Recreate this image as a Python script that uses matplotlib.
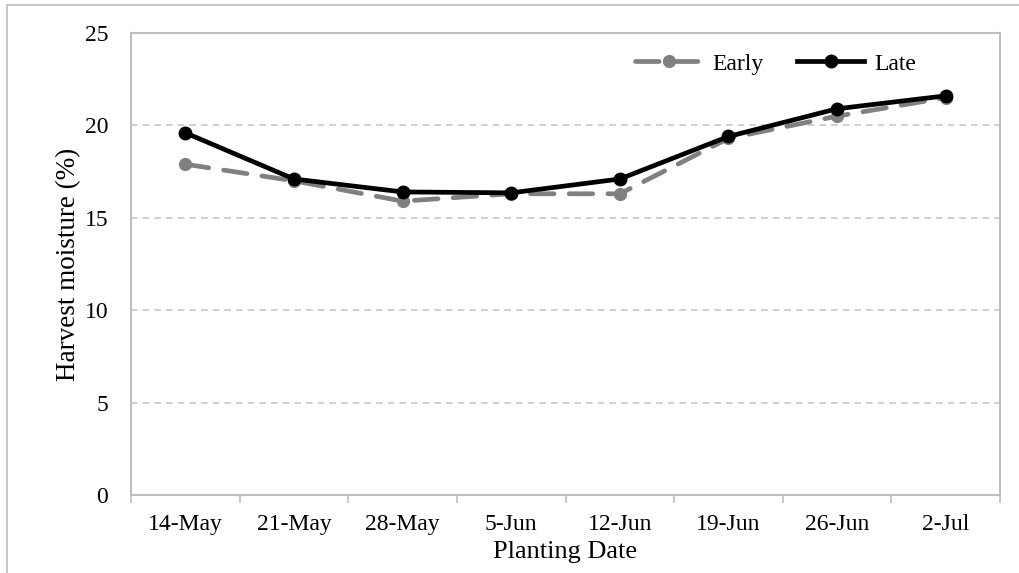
import matplotlib
matplotlib.use("Agg")
import matplotlib.pyplot as plt
from matplotlib.lines import Line2D

categories = ["14-May", "21-May", "28-May", "5-Jun", "12-Jun", "19-Jun", "26-Jun", "2-Jul"]
early = [17.9, 17.0, 15.9, 16.3, 16.3, 19.3, 20.5, 21.5]
late = [19.6, 17.1, 16.4, 16.35, 17.1, 19.4, 20.9, 21.6]
yticks = [0, 5, 10, 15, 20, 25]

plt.rcParams['font.family'] = ['Liberation Serif', 'DejaVu Serif']

W, H = 1019, 573
fig = plt.figure(figsize=(W / 100, H / 100), dpi=100)
ax = fig.add_axes([131 / W, 1 - 495 / H, (1000 - 131) / W, (495 - 33) / H])

x = list(range(len(categories)))
ax.plot(x, early, color='#808080', lw=3.4, dashes=(5.0, 3.2), dash_capstyle='round',
        marker='o', ms=8.5, label='Early', zorder=3)
ax.plot(x, late, color='black', lw=3.4, marker='o', ms=9, label='Late', zorder=4)

ax.set_xlim(-0.5, len(categories) - 0.5)
ax.set_ylim(0, 25)
ax.set_yticks(yticks)
ax.set_xticks(x)
ax.set_xticklabels(categories)
ax.set_xticks([i - 0.5 for i in range(len(categories) + 1)], minor=True)
ax.tick_params(axis='x', which='major', length=0, pad=14, labelsize=17)
ax.tick_params(axis='x', which='minor', length=6, width=1.2, color='#bfbfbf', direction='out')
ax.tick_params(axis='y', length=0, pad=16.5, labelsize=17)
for y in yticks[1:-1]:
    ax.axhline(y, color='#c8c8c8', lw=1.2, dashes=(4, 3), zorder=1)
for s in ax.spines.values():
    s.set_color('#bfbfbf')
    s.set_linewidth(1.5)

ax.set_xlabel('Planting Date', fontsize=19, labelpad=4)
ax.set_ylabel('Harvest moisture (%)', fontsize=19.5, labelpad=2.5)

leg = ax.legend(ncol=2, frameon=False, fontsize=17, loc='center',
                bbox_to_anchor=(0.742, 0.933), handlelength=2.8, columnspacing=1.44,
                handletextpad=0.45)

# figure border (left and top)
fig.add_artist(Line2D([7 / W, 7 / W], [0, 1 - 5 / H], color='#bfbfbf', lw=1.2))
fig.add_artist(Line2D([7 / W, 1], [1 - 5 / H, 1 - 5 / H], color='#bfbfbf', lw=1.2))

fig.savefig('out.png', dpi=100)
